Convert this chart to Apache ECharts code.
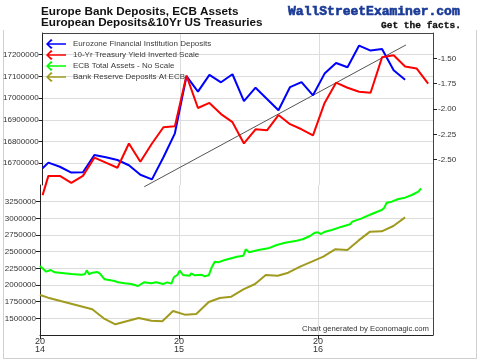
<!DOCTYPE html>
<html>
<head>
<meta charset="utf-8">
<script src="https://cdn.jsdelivr.net/npm/echarts@6/dist/echarts.min.js"></script>
<style>
html,body{margin:0;padding:0;background:#fff;}
#chart{width:480px;height:363px;}
</style>
</head>
<body>
<div id="chart"></div>
<script>
// ---- data ----
const monthX = [2014.000, 2014.042, 2014.125, 2014.208, 2014.292, 2014.375, 2014.458, 2014.542, 2014.625, 2014.708, 2014.792, 2014.875,
  2014.958, 2015.042, 2015.125, 2015.208, 2015.292, 2015.375, 2015.458, 2015.542, 2015.625, 2015.708, 2015.792, 2015.875,
  2015.958, 2016.042, 2016.125, 2016.208, 2016.292, 2016.375, 2016.458, 2016.542, 2016.625, 2016.708, 2016.792];
const depositsY = [16677000, 16703000, 16684000, 16657000, 16659000, 16738000, 16728000, 16715000, 16691000, 16647000, 16626000, 16728000,
  16838000, 17101000, 17030000, 17107000, 17073000, 17110000, 16986000, 17048000, 16996000, 16944000, 17051000, 17074000,
  17013000, 17113000, 17162000, 17142000, 17242000, 17219000, 17226000, 17128000, 17085000];
const yieldInvY = [-2.85, -2.66, -2.66, -2.73, -2.66, -2.48, -2.53, -2.58, -2.34, -2.52, -2.34, -2.18,
  -2.17, -1.67, -1.99, -1.94, -2.05, -2.13, -2.34, -2.20, -2.21, -2.06, -2.15, -2.20,
  -2.26, -1.94, -1.74, -1.79, -1.83, -1.84, -1.49, -1.47, -1.58, -1.60, -1.75];
const ecbX = [2014.000, 2014.045, 2014.077, 2014.106, 2014.225, 2014.297, 2014.322, 2014.336, 2014.353, 2014.369, 2014.383, 2014.410,
  2014.429, 2014.465, 2014.537, 2014.561, 2014.609, 2014.657, 2014.705, 2014.748, 2014.801, 2014.837, 2014.885, 2014.916,
  2014.945, 2014.964, 2014.988, 2015.005, 2015.029, 2015.077, 2015.088, 2015.113, 2015.160, 2015.185, 2015.214, 2015.232,
  2015.257, 2015.281, 2015.329, 2015.417, 2015.463, 2015.480, 2015.504, 2015.571, 2015.642, 2015.703, 2015.763, 2015.847,
  2015.894, 2015.942, 2015.978, 2015.998, 2016.022, 2016.050, 2016.099, 2016.171, 2016.230, 2016.247, 2016.314, 2016.386,
  2016.458, 2016.477, 2016.494, 2016.530, 2016.578, 2016.626, 2016.674, 2016.722, 2016.741];
const ecbY = [2285000, 2200000, 2225000, 2190000, 2165000, 2155000, 2160000, 2220000, 2160000, 2180000, 2160000, 2195000,
  2175000, 2085000, 2060000, 2040000, 2025000, 2015000, 1985000, 2040000, 2025000, 2040000, 2015000, 2040000,
  2020000, 2120000, 2150000, 2215000, 2150000, 2140000, 2175000, 2145000, 2155000, 2130000, 2145000, 2250000,
  2350000, 2340000, 2375000, 2425000, 2440000, 2535000, 2490000, 2525000, 2550000, 2600000, 2635000, 2665000,
  2690000, 2735000, 2785000, 2790000, 2765000, 2800000, 2825000, 2875000, 2910000, 2950000, 3000000, 3065000,
  3125000, 3160000, 3235000, 3250000, 3290000, 3310000, 3350000, 3400000, 3450000];
const reserveX = [2014.000, 2014.058, 2014.376, 2014.458, 2014.542, 2014.710, 2014.801, 2014.880, 2014.957, 2015.041,
  2015.124, 2015.214, 2015.293, 2015.376, 2015.463, 2015.547, 2015.624, 2015.710, 2015.786, 2015.871,
  2015.955, 2016.038, 2016.122, 2016.211, 2016.290, 2016.374, 2016.458, 2016.542, 2016.626];
const reserveY = [1850000, 1810000, 1635000, 1500000, 1410000, 1505000, 1465000, 1455000, 1610000, 1555000,
  1565000, 1745000, 1805000, 1825000, 1935000, 2015000, 2150000, 2140000, 2185000, 2275000,
  2350000, 2425000, 2535000, 2525000, 2665000, 2800000, 2805000, 2885000, 3015000];
const trendX = [2014.736, 2016.631];
const trendY = [16592000, 17245000];
const yearTicks = [2014, 2015, 2016];
const depositTicks = [16700000, 16800000, 16900000, 17000000, 17100000, 17200000];
const yieldTicks = [-2.50, -2.25, -2.00, -1.75, -1.50];
const lowerTicks = [1500000, 1750000, 2000000, 2250000, 2500000, 2750000, 3000000, 3250000];
const seriesNames = ['Eurozone Financial Institution Deposits', '10-Yr Treasury Yield Inverted Scale',
  'ECB Total Assets - No Scale', 'Bank Reserve Deposits At ECB'];

const zip = (xs, ys) => ys.map((y, i) => [xs[i], y]);
const FONT = '"Liberation Sans", Arial, sans-serif';
const ARROW = 'path://M0,6L6,0L8,1.5L3.5,5L24,5L24,7L3.5,7L8,10.5L6,12Z';

const chart = echarts.init(document.getElementById('chart'), null, {renderer: 'canvas'});
const xBase = {
  type: 'value', min: 2014, max: 2016.827, interval: 1,
  splitLine: {show: true, lineStyle: {color: '#dcdcdc', width: 1}}
};
chart.setOption({
  animation: false,
  backgroundColor: '#fff',
  textStyle: {fontFamily: FONT},
  grid: [
    {left: 40, right: 47, top: 33, height: 152},
    {left: 40, right: 47, top: 185, height: 150}
  ],
  xAxis: [
    Object.assign({}, xBase, {gridIndex: 0, position: 'top',
      axisLine: {show: true, lineStyle: {color: '#444', width: 1}},
      axisTick: {show: false, customValues: yearTicks}, axisLabel: {show: false, customValues: yearTicks}}),
    Object.assign({}, xBase, {gridIndex: 1, position: 'bottom',
      axisLine: {show: true, lineStyle: {color: '#222', width: 1}},
      axisTick: {show: true, length: 4, lineStyle: {color: '#222'}, customValues: yearTicks},
      axisLabel: {show: true, customValues: yearTicks, fontSize: 9, lineHeight: 8, color: '#333', margin: 3,
        fontFamily: FONT,
        formatter: v => { const s = String(Math.round(v)); return s.slice(0, 2) + '\n' + s.slice(2); }}})
  ],
  yAxis: [
    {type: 'value', gridIndex: 0, position: 'left', min: 16600000, max: 17300000, interval: 100000,
      axisLine: {show: true, lineStyle: {color: '#222'}},
      axisTick: {show: true, length: 4, lineStyle: {color: '#222'}, customValues: depositTicks},
      axisLabel: {fontSize: 8, color: '#333', margin: 4, customValues: depositTicks, fontFamily: FONT, formatter: v => String(v)},
      splitLine: {show: true, lineStyle: {color: '#dcdcdc'}}},
    {type: 'value', gridIndex: 0, position: 'right', min: -2.75, max: -1.25, interval: 0.25,
      axisLine: {show: true, lineStyle: {color: '#444'}},
      axisTick: {show: true, length: 4, lineStyle: {color: '#222'}, customValues: yieldTicks},
      axisLabel: {fontSize: 8, color: '#333', margin: 5, customValues: yieldTicks,
        fontFamily: FONT, formatter: v => v.toFixed(2)},
      splitLine: {show: false}},
    {type: 'value', gridIndex: 1, position: 'left', min: 1250000, max: 3500000, interval: 250000,
      axisLine: {show: true, lineStyle: {color: '#222'}},
      axisTick: {show: true, length: 4, lineStyle: {color: '#222'}, customValues: lowerTicks},
      axisLabel: {fontSize: 8, color: '#333', margin: 4, customValues: lowerTicks, fontFamily: FONT, formatter: v => String(v)},
      splitLine: {show: true, lineStyle: {color: '#dcdcdc'}}},
    {type: 'value', gridIndex: 1, position: 'right', min: 1250000, max: 3500000, interval: 250000,
      axisLine: {show: true, lineStyle: {color: '#444'}},
      axisTick: {show: false}, axisLabel: {show: false}, splitLine: {show: false}}
  ],
  legend: {
    orient: 'vertical', left: 46, top: 39, itemWidth: 22, itemHeight: 10, itemGap: 1,
    icon: ARROW, data: seriesNames,
    textStyle: {fontSize: 8, color: '#3a3a3a', fontFamily: FONT, lineHeight: 10, padding: [0, 0, 0, 1]},
    padding: 0
  },
  series: [
    {name: seriesNames[0], type: 'line', xAxisIndex: 0, yAxisIndex: 0, data: zip(monthX, depositsY),
      showSymbol: false, symbol: 'none', clip: false, color: '#0000ff', lineStyle: {width: 2, color: '#0000ff'}, z: 3},
    {name: seriesNames[1], type: 'line', xAxisIndex: 0, yAxisIndex: 1, data: zip(monthX, yieldInvY),
      showSymbol: false, symbol: 'none', clip: false, color: '#ff0000', lineStyle: {width: 2, color: '#ff0000'}, z: 4},
    {name: seriesNames[2], type: 'line', xAxisIndex: 1, yAxisIndex: 2, data: zip(ecbX, ecbY),
      showSymbol: false, symbol: 'none', clip: false, color: '#00ff00', lineStyle: {width: 2, color: '#00ff00'}, z: 3},
    {name: seriesNames[3], type: 'line', xAxisIndex: 1, yAxisIndex: 2, data: zip(reserveX, reserveY),
      showSymbol: false, symbol: 'none', clip: false, color: '#a09b1e', lineStyle: {width: 2, color: '#a09b1e'}, z: 3},
    {name: 'trend', type: 'line', xAxisIndex: 0, yAxisIndex: 0, data: zip(trendX, trendY),
      showSymbol: false, symbol: 'none', clip: false, color: '#555', lineStyle: {width: 1, color: '#555'}, z: 2}
  ],
  graphic: [
    {type: 'polyline', silent: true, z: -1, shape: {points: [[3.5, 30], [3.5, 358.5], [476.5, 358.5], [476.5, 30]]},
      style: {stroke: '#cfcfcf', lineWidth: 1, fill: null}},
    {type: 'text', left: 41, top: 6, style: {text: 'Europe Bank Deposits, ECB Assets', font: 'bold 11.7px ' + FONT, fill: '#111'}},
    {type: 'text', left: 41, top: 17, style: {text: 'European Deposits&10Yr US Treasuries', font: 'bold 11.7px ' + FONT, fill: '#111'}},
    {type: 'text', right: 20, top: 5, style: {text: 'WallStreetExaminer.com', font: 'bold 13px "Liberation Mono", "Courier New", monospace', fill: '#1a3a96', stroke: '#1a3a96', lineWidth: 0.6}},
    {type: 'text', right: 19, top: 20, style: {text: 'Get the facts.', font: 'bold 9.5px "Liberation Mono", "Courier New", monospace', fill: '#111', stroke: '#111', lineWidth: 0.3}},
    {type: 'text', right: 51, top: 325, style: {text: 'Chart generated by Economagic.com', font: '7.7px ' + FONT, fill: '#333'}}
  ]
});
</script>
</body>
</html>
